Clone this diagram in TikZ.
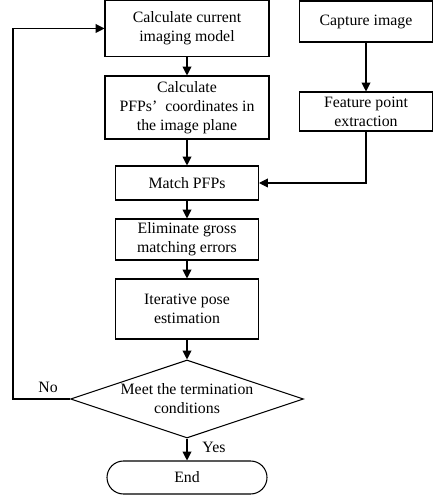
\documentclass[tikz,border=0pt]{standalone}
\usepackage{fontspec}
\setmainfont{Liberation Serif}
\usetikzlibrary{arrows.meta,shapes.geometric}
\begin{document}
\begin{tikzpicture}[
  font=\fontsize{9}{10.8}\selectfont,
  line width=0.6pt,
  box/.style={draw,align=center,inner sep=1pt},
  decision/.style={draw,diamond,aspect=3,inner sep=0pt,align=center},
  arr/.style={-{Triangle[length=5pt,width=5pt]}}]
  \useasboundingbox (0,0) rectangle (8.66,10);
  % left column
  \node[box,minimum width=3.28cm,minimum height=1.12cm] (model) at (3.74,9.43) {Calculate current\\imaging model};
  \node[box,minimum width=3.28cm,minimum height=1.26cm] (coord) at (3.74,7.85) {Calculate\\PFPs’\enspace coordinates in\\the image plane};
  \node[box,minimum width=2.86cm,minimum height=0.68cm] (match) at (3.74,6.34) {Match PFPs};
  \node[box,minimum width=2.86cm,minimum height=0.82cm] (elim) at (3.74,5.21) {Eliminate gross\\matching errors};
  \node[box,minimum width=2.86cm,minimum height=1.2cm] (pose) at (3.74,3.82) {Iterative pose\\estimation};
  \node[decision,minimum width=4.66cm,minimum height=1.56cm] (cond) at (3.74,2.02) {Meet the termination\\conditions};
  \node[box,rounded corners=0.33cm,minimum width=3.2cm,minimum height=0.66cm] (stop) at (3.74,0.45) {End};
  % right column
  \node[box,minimum width=2.66cm,minimum height=0.82cm] (capture) at (7.32,9.57) {Capture image};
  \node[box,minimum width=2.66cm,minimum height=0.78cm] (feature) at (7.32,7.77) {Feature point\\extraction};
  \node (no) at (0.96,2.26) {No};
  \node (yes) at (4.28,1.06) {Yes};
  \coordinate (loop) at (0.26,2.02);

  \draw[arr] (model) -- (coord);
  \draw[arr] (coord) -- (match);
  \draw[arr] (match) -- (elim);
  \draw[arr] (elim) -- (pose);
  \draw[arr] (pose) -- (cond);
  \draw[arr] (cond) -- (stop);
  \draw[arr] (capture) -- (feature);
  \draw[arr] (feature.south) |- (match.east);
  \draw[arr] (cond.west) -- (loop) |- (model.west);
\end{tikzpicture}
\end{document}
